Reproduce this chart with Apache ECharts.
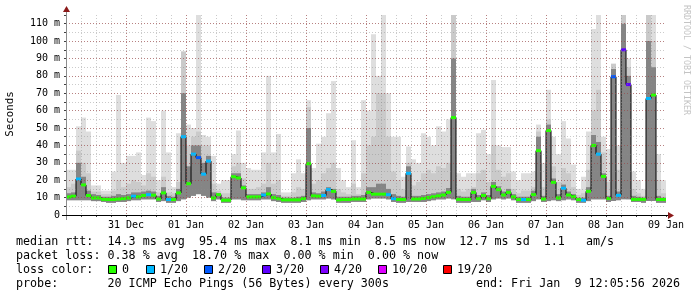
<!DOCTYPE html>
<html><head><meta charset="utf-8">
<script src="https://cdn.jsdelivr.net/npm/echarts@6/dist/echarts.min.js"></script>
<style>html,body{margin:0;padding:0;background:#fff}#c{width:697px;height:297px}</style>
</head><body><div id="c"></div>
<script>
// ---- time base: hours since 30 Dec 00:00, 2-hour bins ----
const FIRST_HOUR = 12, STEP_HOURS = 2, LAST_HOUR = 252;
const dayLabels = ['31 Dec','01 Jan','02 Jan','03 Jan','04 Jan','05 Jan','06 Jan','07 Jan','08 Jan','09 Jan'];
const dayLabelHours = [36,60,84,108,132,156,180,204,228,252];

// median rtt (ms) per bin
const median = [10.4,10.8,20.7,17.3,11.2,9.8,9.8,9.0,8.9,8.9, 9.2,9.4,9.8,10.8,10.4,11.2,11.7,11.4,9.2,12.7,
 8.9,8.9,12.7,45,18,35,33,23.5,31,9.8, 11.7,8.5,8.5,22,21.3,15.6,10.4,10.4,10.4,11.5,
 12.1,10,9.4,8.7,8.7,8.7,8.7,9.4,29.5,11, 10.8,11.2,14.6,13.6,8.7,8.9,8.9,9.2,9.2,9.2,
 13,12,12,12,11.7,9.4,8.9,8.9,24,9.2, 9.2,9.5,10,10.5,11,11.5,13,56,9,8.9,
 8.9,13,9.4,11.2,9.4,16.5,14.6,11.5,13,10.4, 8.9,8.9,8.9,11.7,37,9.2,48.6,18.8,9.8,15.4,
 11.5,10.5,8.9,8.5,13.6,40,35,22.2,9.5,79.5, 11.3,95,75,9,9,9,67,69,8.9,8.9];
// loss colour index per bin (0 -> 0/20, 1 -> 1/20, 2 -> 2/20, 3 -> 3/20 ...)
const lossIdx = [0,0,1,0,0,0,0,0,0,0, 0,0,0,1,0,0,1,0,0,0,
 1,0,0,1,0,1,2,1,1,0, 0,0,0,0,0,0,0,0,0,1,
 0,0,0,0,0,0,0,0,0,0, 0,1,1,0,0,0,0,0,0,0,
 0,0,0,0,1,1,0,0,1,0, 0,0,0,0,0,0,0,0,0,0,
 0,0,0,0,0,0,0,0,0,0, 0,1,0,0,0,0,0,0,0,1,
 0,0,0,1,0,0,1,0,0,2, 1,3,3,0,0,0,1,0,0,0];
// smoke: lowest ping, dark core top, medium band top, highest ping (ms)
const smokeLo = [8.5,8.5,8.5,8.5,8.5,8,8,7.5,7,7, 7.5,7.5,8,8.5,8.5,9,9,9,7.5,8,
 7,7,8,9,10,11,12,11,10,8, 9,7,7,9,9,8.5,8.5,8.5,8.5,9,
 9,8,7.5,7,7,7,7,7.5,8.5,9, 9,9,9.5,9,7,7,7,7.5,7.5,7.5,
 9,9.5,9.5,9.5,9,7.5,7,7,7.5,7.5, 7.5,7.5,8,8.5,9,9,9.5,9,7,7,
 7,7.5,7.5,8.5,7.5,9,9.5,9,9.5,8.5, 7,7,7,8,9,7.5,8,8.5,8,8.5,
 9,8.5,7,7,8,9,9,9,7.5,8, 8.5,9,9,7.5,7.5,7,8,8,7,7];
const smokeDark = [12.5,13,30,22,14,12,11.5,10.5,10.5,11, 12,11.5,12,13,13,13.5,14,13.5,11,16,
 11,10.5,15,70,28,40,40,30,34,13, 12.5,10,10,24,24,17,12,12,12,13,
 16,12,11.5,10,10,10,10.5,11,50,13, 12.5,13.5,16,15,10.5,10.5,10.5,11,11,11.5,
 16,16,18,18,15,12,11,10.5,28,11, 11,11.5,12,12.5,13,13.5,15.5,90,11,10.5,
 10.5,15,11.5,13,11.5,19,16.5,13.5,15,12, 10.5,10.5,10.5,14,45,11,52,21,12,17.5,
 13.5,12,10,10,16,46,42,24,11,84, 13.5,110,80,11,10.5,10,100,85,11,10];
const smokeMid = [16,18,37,30,24,13.5,13.5,12,12,14, 20,16,18,20,19,17,24,22,13,22,
 13,12.5,19,94,40,45,48,40,40,18, 14,12.5,12.5,28,30,21,15,15,16,18,
 30,18,20,11,11,13,16,15,62,18, 20,24,27,30,15,13,12,18,12,24,
 40,45,70,70,45,25,20,15,30,17, 19,24,26,24,28,27,30,115,15,13.5,
 15,16,24,26,19,40,26,22,24,15, 12.5,14,14,16,48,16,55,28,19,27,
 24,16,11.5,12.5,26,60,72,36,19,87, 26,115,85,15,12.5,11,115,100,20,12.5];
const smokeHi = [26,26,51,56,48,17,17,14,14,25, 69,30,34,34,36,23,56,54,20,60,
 36,16,47,94,52,50,115,46,45,34, 18,20,20,35,48.6,30,27,26,26,36,
 80,36,46.6,13,13,24,32,24,66,27, 41,45,58.5,77,27,20,16,43,16,66,
 60,104,80,115,70,45,45,22,39.4,32, 30,47,45,40,51,48,55,115,24,22,
 24,24,47,49,35,77.6,40,39,39,25, 20,24,24,25,52,30,72,45,35,54,
 44,29,15,22,48,107,115,45,38,87, 40,115,90,25,20,15,115,115,35,20];

const lossColors = ['#26ff00','#00b8ff','#0059ff','#5e00ff','#7e00ff','#dd00ff','#ff0000'];
const lossLabels = ['0','1/20','2/20','3/20','4/20','10/20','19/20'];
const medianStats = 'median rtt:  14.3 ms avg  95.4 ms max  8.1 ms min  8.5 ms now  12.7 ms sd  1.1   am/s';
const lossStats = 'packet loss: 0.38 % avg  18.70 % max  0.00 % min  0.00 % now';
const probeText = 'probe:       20 ICMP Echo Pings (56 Bytes) every 300s';
const endText = 'end: Fri Jan  9 12:05:56 2026';

const binStart = i => FIRST_HOUR + STEP_HOURS * i;
const smokeData = median.map((m, i) => [binStart(i), binStart(i) + STEP_HOURS, smokeLo[i], smokeDark[i], smokeMid[i], smokeHi[i]]);
const lineData = median.map((m, i) => [binStart(i), m]);
lineData.push([LAST_HOUR, median[median.length - 1]]);
const segData = median.map((m, i) => [binStart(i), binStart(i) + STEP_HOURS, m, lossIdx[i]]);

const MONO = '"DejaVu Sans Mono", monospace';
const YMAX = 115;
const minorGrid = {show:true, showMaxLine:false, showMinLine:false, lineStyle:{color:'rgba(140,140,140,0.45)', type:[1,2], width:1}};

const option = {
  animation:false,
  backgroundColor:'#ffffff',
  grid:{left:66, top:15, width:600, height:200, outerBoundsMode:'none', containLabel:false},
  xAxis:[
    {type:'value', min:FIRST_HOUR, max:LAST_HOUR, interval:6, position:'bottom', z:10,
     axisLine:{show:false}, axisLabel:{show:false},
     axisTick:{show:true, length:2, lineStyle:{color:'#404040'}},
     splitLine:minorGrid},
    {type:'value', min:FIRST_HOUR, max:LAST_HOUR, interval:12, position:'bottom', z:11,
     axisLine:{show:false}, axisTick:{show:false},
     axisLabel:{show:true, margin:5, color:'#000', fontFamily:'DejaVu Sans Mono', fontSize:10,
       showMinLabel:true, showMaxLabel:true,
       formatter:v => { const k = dayLabelHours.indexOf(Math.round(v)); return k >= 0 ? dayLabels[k] : ''; }},
     splitLine:{show:true, showMinLine:false, showMaxLine:false,
       lineStyle:{color:['rgba(0,0,0,0)','rgba(160,40,40,0.45)'], type:[1,2], width:1}}}
  ],
  yAxis:[
    {type:'value', min:0, max:YMAX, interval:5, z:10,
     axisLine:{show:false}, axisLabel:{show:false},
     axisTick:{show:true, length:2, lineStyle:{color:'#404040'}},
     splitLine:minorGrid},
    {type:'value', min:0, max:YMAX, interval:10, position:'left', z:11,
     axisLine:{show:false}, axisTick:{show:false},
     axisLabel:{show:true, margin:6, color:'#000', fontFamily:'DejaVu Sans Mono', fontSize:10,
       showMaxLabel:false, formatter:v => v === 0 ? '0' : v + ' m'},
     splitLine:{show:true, showMinLine:false, showMaxLine:false,
       lineStyle:{color:'rgba(160,40,40,0.45)', type:[1,2], width:1}}}
  ],
  series:[
    {type:'custom', xAxisIndex:0, yAxisIndex:0, clip:true, z:2, silent:true,
     data:smokeData, encode:{x:[0,1], y:[2,5]},
     renderItem:(params, api) => {
       const x0 = api.coord([api.value(0), 0])[0];
       const x1 = api.coord([api.value(1), 0])[0];
       const yLo = api.coord([FIRST_HOUR, api.value(2)])[1];
       const layers = [[5,'#dedede'],[4,'#cacaca'],[3,'#858585']];
       return {type:'group', children: layers.map(([k, c]) => {
         const yT = api.coord([FIRST_HOUR, Math.min(api.value(k), YMAX)])[1];
         return {type:'rect', shape:{x:x0, y:yT, width:x1 - x0, height:Math.max(0, yLo - yT)}, style:{fill:c}};
       })};
     }},
    {type:'line', xAxisIndex:0, yAxisIndex:0, z:3, silent:true, step:'end', symbol:'none',
     data:lineData, lineStyle:{color:'#000', width:1}},
    {type:'custom', xAxisIndex:0, yAxisIndex:0, clip:true, z:4, silent:true,
     data:segData, encode:{x:[0,1], y:2},
     renderItem:(params, api) => {
       const x0 = api.coord([api.value(0), 0])[0];
       const x1 = api.coord([api.value(1), 0])[0];
       const ym = api.coord([FIRST_HOUR, api.value(2)])[1];
       return {type:'rect', shape:{x:x0, y:ym - 1.5, width:x1 - x0, height:3}, style:{fill:lossColors[api.value(3)]}};
     }}
  ],
  graphic:[]
};

// decorations: axis lines, arrows, titles, legend
const g = [];
g.push({type:'line', shape:{x1:66.5, y1:11, x2:66.5, y2:220}, style:{stroke:'#8c8c8c', lineWidth:1}, z:20});
g.push({type:'line', shape:{x1:62, y1:215.5, x2:668, y2:215.5}, style:{stroke:'#000', lineWidth:1}, z:20});
g.push({type:'polygon', shape:{points:[[63,12],[70,12],[66.5,6]]}, style:{fill:'#8b1a1a'}, z:21});
g.push({type:'polygon', shape:{points:[[668,212],[668,219],[674,215.5]]}, style:{fill:'#8b1a1a'}, z:21});
g.push({type:'text', x:10, y:114, rotation:Math.PI/2, style:{text:'Seconds', font:'10.8px ' + MONO, fill:'#000', align:'center', verticalAlign:'middle'}, z:20});
g.push({type:'text', x:686, y:60, rotation:-Math.PI/2, style:{text:'RRDTOOL / TOBI OETIKER', font:'8.3px ' + MONO, fill:'#c4c4c4', align:'center', verticalAlign:'middle'}, z:20});
const LF = '11.7px ' + MONO;
g.push({type:'text', x:16, y:241.5, style:{text:medianStats, font:LF, fill:'#000', verticalAlign:'middle'}, z:20});
g.push({type:'text', x:16, y:255.5, style:{text:lossStats, font:LF, fill:'#000', verticalAlign:'middle'}, z:20});
g.push({type:'text', x:16, y:269.5, style:{text:'loss color:', font:LF, fill:'#000', verticalAlign:'middle'}, z:20});
const boxX = [108,146,204,262,320,378,443];
lossLabels.forEach((lab, k) => {
  g.push({type:'rect', shape:{x:boxX[k] + 0.5, y:265.5, width:8, height:8}, style:{fill:lossColors[k], stroke:'#000', lineWidth:1}, z:20});
  g.push({type:'text', x:boxX[k] + 14, y:269.5, style:{text:lab, font:LF, fill:'#000', verticalAlign:'middle'}, z:20});
});
g.push({type:'text', x:16, y:283.5, style:{text:probeText, font:LF, fill:'#000', verticalAlign:'middle'}, z:20});
g.push({type:'text', x:680, y:283.5, style:{text:endText, font:LF, fill:'#000', align:'right', verticalAlign:'middle'}, z:20});
option.graphic = g;

const chart = echarts.init(document.getElementById('c'), null, {renderer:'canvas', width:697, height:297});
chart.setOption(option);
</script></body></html>
